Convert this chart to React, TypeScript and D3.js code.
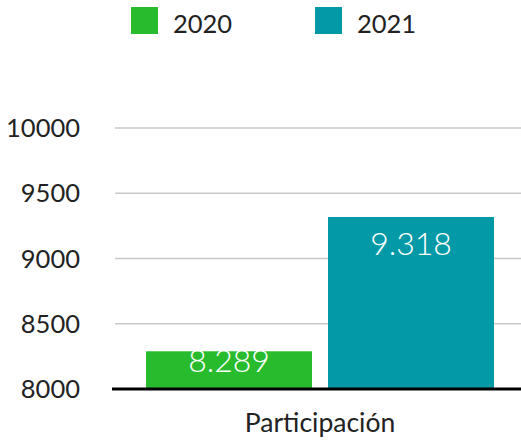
import React from "react";
import * as d3 from "d3";

const categories = ["Participación"];
const seriesNames = ["2020", "2021"];
const values2020 = [8289];
const values2021 = [9318];
const valueLabels2020 = ["8.289"];
const valueLabels2021 = ["9.318"];
const yTicks = [8000, 8500, 9000, 9500, 10000];
const colors = ["#27bb2d", "#0399a6"];

const W = 521;
const H = 442;
const FONT = "Lato, 'Noto Sans', sans-serif";

export default function App() {
  const y = d3.scaleLinear().domain([8000, 10000]).range([389, 128]);
  const x0 = d3.scaleBand().domain(categories).range([112, 528]).padding(0);
  const x1 = d3
    .scaleBand()
    .domain(seriesNames)
    .range([34, 382])
    .paddingInner(0.088)
    .paddingOuter(0);
  const series = [values2020, values2021];
  const labels = [valueLabels2020, valueLabels2021];

  return (
    <svg
      width={W}
      height={H}
      style={{ position: "absolute", left: 0, top: 0, display: "block", background: "#fff" }}
      fontFamily={FONT}
    >
      {/* legend */}
      {seriesNames.map((s, i) => (
        <g key={s} transform={`translate(${131 + i * 184},7)`}>
          <rect width={27} height={27} fill={colors[i]} />
          <text x={42} y={26} fontSize={25.5} fill="#222">
            {s}
          </text>
        </g>
      ))}
      {/* grid */}
      {yTicks.slice(1).map((t) => (
        <line key={t} x1={115} x2={W} y1={y(t)} y2={y(t)} stroke="#c8c8c8" strokeWidth={1.5} />
      ))}
      {/* tick labels */}
      {yTicks.map((t) => (
        <text key={t} x={80} y={y(t)} dy="0.36em" textAnchor="end" fontSize={25.5} fill="#222">
          {t}
        </text>
      ))}
      {/* bars */}
      {categories.map((c, ci) => (
        <g key={c} transform={`translate(${x0(c)},0)`}>
          {seriesNames.map((s, si) => {
            const v = series[si][ci];
            const top = y(v);
            const bottom = y(8000);
            const ly = Math.min(top + 38, bottom - 17);
            const bx = x1(s)!;
            return (
              <g key={s}>
                <rect x={bx} y={top} width={x1.bandwidth()} height={bottom - top} fill={colors[si]} />
                <text
                  x={bx + x1.bandwidth() / 2}
                  y={ly}
                  textAnchor="middle"
                  fontSize={32}
                  fontWeight={300}
                  fill="#fff"
                >
                  {labels[si][ci]}
                </text>
              </g>
            );
          })}
          <text x={x0.bandwidth() / 2} y={432} textAnchor="middle" fontSize={26.5} fill="#222">
            {c}
          </text>
        </g>
      ))}
      {/* baseline */}
      <line x1={112} x2={W} y1={389} y2={389} stroke="#000" strokeWidth={3} />
    </svg>
  );
}
